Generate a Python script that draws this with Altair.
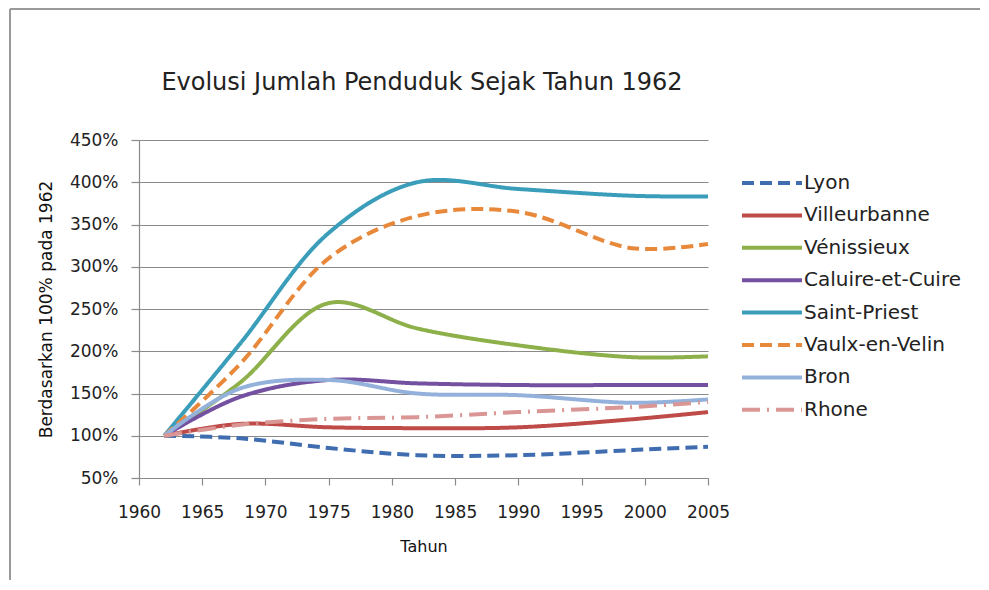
import altair as alt
import pandas as pd

years = [1962, 1968, 1975, 1982, 1990, 1999, 2005]
series = ["Lyon", "Villeurbanne", "Vénissieux", "Caluire-et-Cuire",
          "Saint-Priest", "Vaulx-en-Velin", "Bron", "Rhone"]

lyon = [100, 97, 85.5, 77, 77, 83, 87]
villeurbanne = [100, 114, 110, 109, 110, 119.5, 128]
venissieux = [100, 163, 257, 227, 207, 193, 194]
caluire = [100, 146, 166, 162, 160, 160, 160]
saint_priest = [100, 209, 340, 400, 392, 384, 383]
vaulx = [100, 185, 310, 360, 365, 322, 327]
bron = [100, 156, 166, 150, 148, 139, 143]
rhone = [100, 113, 120, 122, 128, 134, 140]

values = [lyon, villeurbanne, venissieux, caluire, saint_priest, vaulx, bron, rhone]

colors = ["#3F6DB0", "#BE4B48", "#8DB04A", "#7451A0", "#3A9DBA",
          "#E8883A", "#93B1DA", "#D99694"]
dashes = [[12, 6], [1, 0], [1, 0], [1, 0], [1, 0], [12, 6], [1, 0], [18, 7, 2, 7]]

x_ticks = list(range(1960, 2006, 5))
y_ticks = list(range(50, 451, 50))
title_text = "Evolusi Jumlah Penduduk Sejak Tahun 1962"

rows = []
for name, vals in zip(series, values):
    for yr, v in zip(years, vals):
        rows.append({"Seri": name, "Tahun": yr, "Nilai": v})
df = pd.DataFrame(rows)

font = "DejaVu Sans"

lines = alt.Chart(df).mark_line(
    interpolate="catmull-rom", strokeWidth=4, strokeCap="butt"
).encode(
    x=alt.X("Tahun:Q",
            scale=alt.Scale(domain=[1960, 2005], nice=False, zero=False),
            axis=alt.Axis(values=x_ticks, format="d", title="Tahun", grid=False,
                          tickSize=7, labelPadding=19, titlePadding=18,
                          labelFlush=False, labelFontSize=17, titleFontSize=16)),
    y=alt.Y("Nilai:Q",
            scale=alt.Scale(domain=[50, 450], nice=False, zero=False),
            axis=alt.Axis(values=y_ticks, labelExpr="datum.value + '%'",
                          title="Berdasarkan 100% pada 1962", tickSize=8,
                          labelPadding=13, titlePadding=14, labelFontSize=17,
                          titleFontSize=17, labelFlush=False)),
    color=alt.Color("Seri:N", scale=alt.Scale(domain=series, range=colors),
                    legend=alt.Legend(title=None, orient="none", legendX=601, legendY=26,
                                      symbolType="M-1,0H3", symbolSize=900,
                                      symbolStrokeWidth=4, rowPadding=5.4,
                                      labelFontSize=20, labelFont=font,
                                      labelColor="#222222", labelOffset=30,
                                      padding=0)),
    strokeDash=alt.StrokeDash("Seri:N", scale=alt.Scale(domain=series, range=dashes),
                              legend=None),
    order=alt.Order("Tahun:Q"),
)

frame_df = pd.DataFrame({"k": [0]})
left_edge = alt.Chart(frame_df).mark_rule(color="#999999", strokeWidth=2).encode(
    x=alt.value(-129), y=alt.value(-131), y2=alt.value(470)
)
top_edge = alt.Chart(frame_df).mark_rule(color="#999999", strokeWidth=2).encode(
    x=alt.value(-129), x2=alt.value(860), y=alt.value(-131)
)
title_mark = alt.Chart(frame_df).mark_text(
    font=font, fontSize=24, color="#222222", align="center", baseline="middle"
).encode(
    x=alt.value(283), y=alt.value(-57), text=alt.value(title_text)
)

chart = alt.layer(lines, left_edge, top_edge, title_mark).properties(
    width=569,
    height=338,
    padding={"left": 131, "top": 132, "right": 272, "bottom": 102},
    autosize=alt.AutoSizeParams(type="none"),
).configure_view(
    stroke=None
).configure_axis(
    labelFont=font, titleFont=font,
    labelColor="#222222", titleColor="#111111", titleFontWeight="normal",
    domainColor="#8a8a8a", tickColor="#8a8a8a", gridColor="#8a8a8a",
    gridWidth=1.2, domainWidth=1.2, tickWidth=1.2
)

chart.save("out.html", embed_options={"renderer": "svg", "actions": False})
